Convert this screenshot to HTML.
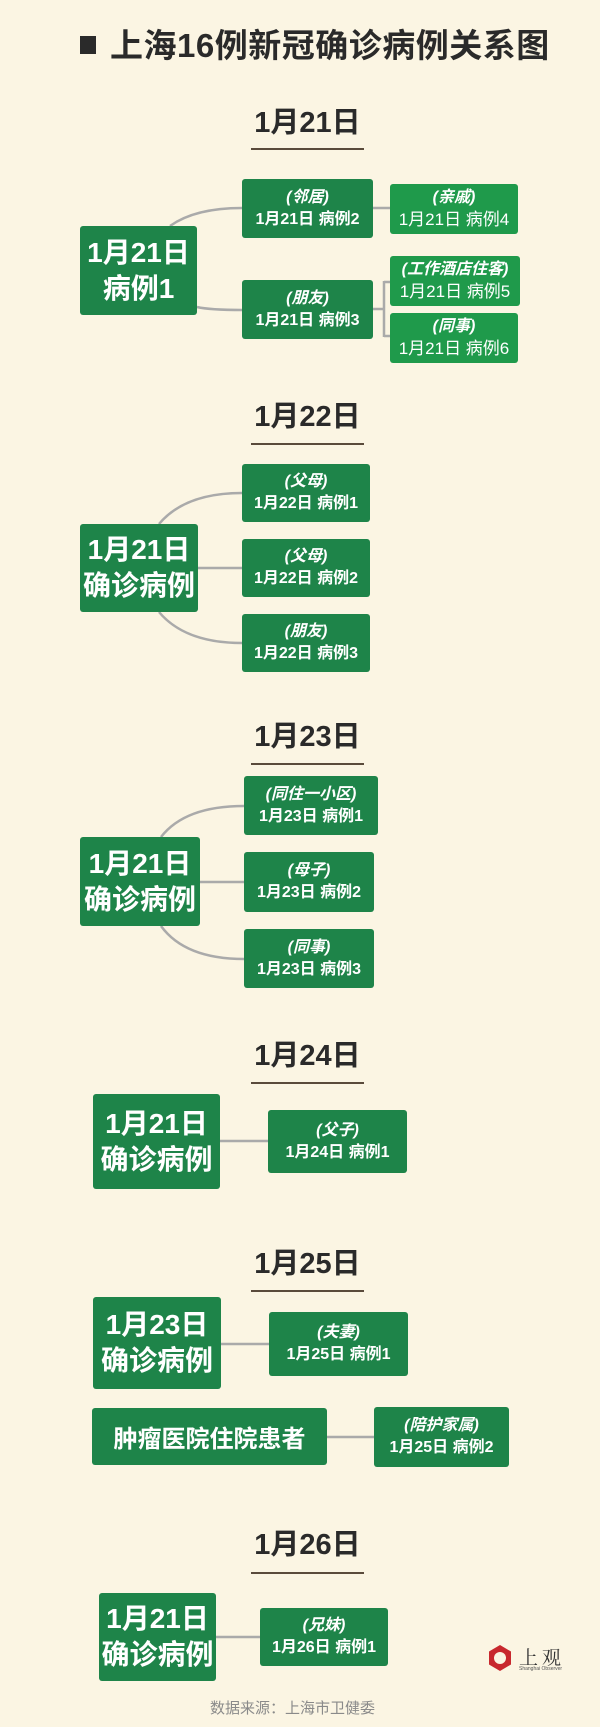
<!DOCTYPE html>
<html><head><meta charset="utf-8"><style>
*{margin:0;padding:0;box-sizing:border-box}
body{width:600px;height:1727px;background:#fbf5e3;position:relative;overflow:hidden;font-family:"Liberation Sans","Noto Sans CJK SC",sans-serif}
.t{position:absolute;left:80px;top:26px;font-size:33px;letter-spacing:0.5px;font-weight:bold;color:#2a2a2a;white-space:nowrap;line-height:40px}
.t i{display:inline-block;width:16px;height:18px;background:#2a2a2a;margin-right:14px;vertical-align:middle;position:relative;top:-3px}
.h{position:absolute;left:251px;width:113px;text-align:center;font-size:29px;font-weight:bold;color:#2a2a2a;line-height:32px}
.u{position:absolute;left:251px;width:113px;height:2px;background:#5a4b3b}
.b{position:absolute;background:#1e8449;color:#fff;border-radius:3px;display:flex;flex-direction:column;justify-content:center;align-items:center;text-align:center;font-weight:bold;white-space:nowrap}
.r{font-size:28px;line-height:36px}
.c{font-size:16px;line-height:22px}
.c em{font-style:italic}
.g{background:#1f9a4b}
.g span{font-weight:normal;font-size:17px}
svg{position:absolute;left:0;top:0}
</style></head><body>
<svg width="600" height="1727"><g fill="none" stroke="#aaa" stroke-width="2.5">
<path d="M170 226 Q195 208 242 208"/><path d="M197 307 Q210 310 242 310"/>
<path d="M373 208 H390"/><path d="M373 309 H384 M384 281 V337 M384 282 H390 M384 336 H390"/>
<path d="M159 524 Q185 493 242 493"/><path d="M198 568 H242"/><path d="M159 612 Q185 643 242 643"/>
<path d="M161 837 Q185 806 244 806"/><path d="M200 882 H244"/><path d="M161 926 Q185 959 244 959"/>
<path d="M220 1141 H268"/><path d="M221 1344 H269"/><path d="M327 1437 H374"/><path d="M216 1637 H260"/>
</g>
<polygon points="500,1645 511,1651.5 511,1664.5 500,1671 489,1664.5 489,1651.5" fill="#c8282e"/>
<circle cx="500" cy="1658" r="6" fill="#fbf5e3"/>
</svg>
<div class="t"><i></i>上海16例新冠确诊病例关系图</div>

<div class="h" style="top:107px">1月21日</div><div class="u" style="top:148px"></div>
<div class="b r" style="left:80px;top:226px;width:117px;height:89px">1月21日<br>病例1</div>
<div class="b c" style="left:242px;top:179px;width:131px;height:59px"><em>(邻居)</em>1月21日 病例2</div>
<div class="b c g" style="left:390px;top:184px;width:128px;height:50px"><em>(亲戚)</em><span>1月21日 病例4</span></div>
<div class="b c" style="left:242px;top:280px;width:131px;height:59px"><em>(朋友)</em>1月21日 病例3</div>
<div class="b c g" style="left:390px;top:256px;width:130px;height:50px"><em>(工作酒店住客)</em><span>1月21日 病例5</span></div>
<div class="b c g" style="left:390px;top:313px;width:128px;height:50px"><em>(同事)</em><span>1月21日 病例6</span></div>

<div class="h" style="top:401px">1月22日</div><div class="u" style="top:443px"></div>
<div class="b r" style="left:80px;top:524px;width:118px;height:88px">1月21日<br>确诊病例</div>
<div class="b c" style="left:242px;top:464px;width:128px;height:58px"><em>(父母)</em>1月22日 病例1</div>
<div class="b c" style="left:242px;top:539px;width:128px;height:58px"><em>(父母)</em>1月22日 病例2</div>
<div class="b c" style="left:242px;top:614px;width:128px;height:58px"><em>(朋友)</em>1月22日 病例3</div>

<div class="h" style="top:721px">1月23日</div><div class="u" style="top:763px"></div>
<div class="b r" style="left:80px;top:837px;width:120px;height:89px">1月21日<br>确诊病例</div>
<div class="b c" style="left:244px;top:776px;width:134px;height:59px"><em>(同住一小区)</em>1月23日 病例1</div>
<div class="b c" style="left:244px;top:852px;width:130px;height:60px"><em>(母子)</em>1月23日 病例2</div>
<div class="b c" style="left:244px;top:929px;width:130px;height:59px"><em>(同事)</em>1月23日 病例3</div>

<div class="h" style="top:1040px">1月24日</div><div class="u" style="top:1082px"></div>
<div class="b r" style="left:93px;top:1094px;width:127px;height:95px">1月21日<br>确诊病例</div>
<div class="b c" style="left:268px;top:1110px;width:139px;height:63px"><em>(父子)</em>1月24日 病例1</div>

<div class="h" style="top:1248px">1月25日</div><div class="u" style="top:1290px"></div>
<div class="b r" style="left:93px;top:1297px;width:128px;height:92px">1月23日<br>确诊病例</div>
<div class="b c" style="left:269px;top:1312px;width:139px;height:64px"><em>(夫妻)</em>1月25日 病例1</div>
<div class="b" style="left:92px;top:1408px;width:235px;height:57px;font-size:24px">肿瘤医院住院患者</div>
<div class="b c" style="left:374px;top:1407px;width:135px;height:60px"><em>(陪护家属)</em>1月25日 病例2</div>

<div class="h" style="top:1529px">1月26日</div><div class="u" style="top:1572px"></div>
<div class="b r" style="left:99px;top:1593px;width:117px;height:88px">1月21日<br>确诊病例</div>
<div class="b c" style="left:260px;top:1608px;width:128px;height:58px"><em>(兄妹)</em>1月26日 病例1</div>

<div style="position:absolute;left:519px;top:1643px;font-size:19px;color:#333;letter-spacing:4px;font-family:'Noto Serif CJK SC',serif">上观</div>
<div style="position:absolute;left:519px;top:1666px;font-size:5px;color:#555">Shanghai Observer</div>
<div style="position:absolute;left:210px;top:1697px;font-size:15px;color:#8a8a8a;white-space:nowrap">数据来源：上海市卫健委</div>
</body></html>
